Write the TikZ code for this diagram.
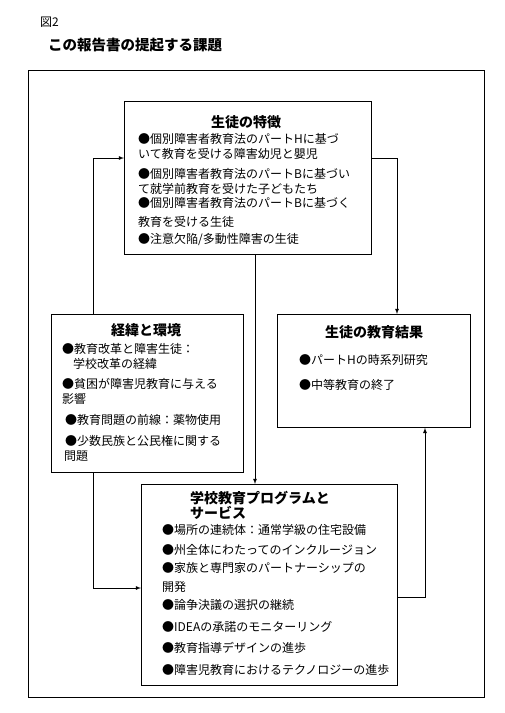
\documentclass[tikz,border=0pt]{standalone}
\usepackage{fontspec}
\setmainfont{Noto Sans CJK JP}
\usetikzlibrary{positioning}

\begin{document}
\begin{tikzpicture}[x=1pt,y=-1pt]
    \tikzstyle{box}=[rectangle, draw=black!100, thick, inner sep=0pt, anchor=north west]
    \tikzstyle{head}=[font=\fontsize{14}{15}\selectfont\bfseries, inner sep=0pt]
    \tikzstyle{item}=[font=\fontsize{12}{15}\selectfont, align=left, inner sep=0pt, anchor=north west]
    \tikzstyle{connect}=[-latex, thick]
    \useasboundingbox (0,0) rectangle (504,713);
      % caption
      \node[font=\fontsize{12}{14}\selectfont, inner sep=0pt, anchor=west] (fig) at (40,22) {図2};
      \node[font=\fontsize{14.5}{16}\selectfont\bfseries, inner sep=0pt, anchor=west] (caption) at (48,45) {この報告書の提起する課題};
      \node[box, minimum width=456pt, minimum height=627pt] (frame) at (28,70) {};
      % boxes
      \node[box, minimum width=247pt, minimum height=153pt] (traits) at (124,101) {};
      \node[box, minimum width=192pt, minimum height=158pt] (ctx) at (51,314) {};
      \node[box, minimum width=193pt, minimum height=113pt] (outcome) at (277,314) {};
      \node[box, minimum width=256pt, minimum height=201pt] (school) at (141,484) {};
      % texts
      \node[head] (traitsT) at (246,122) {生徒の特徴};
      \node[item] (traitsL) at (138,133) {●個別障害者教育法のパートHに基づ\\
        いて教育を受ける障害幼児と嬰児\\[5pt]
        ●個別障害者教育法のパートBに基づい\\
        て就学前教育を受けた子どもたち\\[-1pt]
        ●個別障害者教育法のパートBに基づく\\[4pt]
        教育を受ける生徒\\[2pt]
        ●注意欠陥/多動性障害の生徒};
      \node[head] (ctxT) at (146,330) {経緯と環境};
      \node[item] (ctxL) at (62,343) {●教育改革と障害生徒：\\
        \hspace{11pt}学校改革の経緯\\[5pt]
        ●貧困が障害児教育に与える\\
        影響\\[6pt]
        \hspace{3pt}●教育問題の前線：薬物使用\\[6pt]
        \hspace{3pt}●少数民族と公民権に関する\\
        \hspace{2pt}問題};
      \node[head] (outcomeT) at (374,332) {生徒の教育結果};
      \node[item] (outcomeL) at (299,354) {●パートHの時系列研究\\[10pt]
        ●中等教育の終了};
      \node[head, align=left, anchor=north west] (schoolT) at (190,491) {学校教育プログラムと\\
        サービス};
      \node[item] (schoolL) at (162,524) {●場所の連続体：通常学級の住宅設備\\[5pt]
        ●州全体にわたってのインクルージョン\\[3pt]
        ●家族と専門家のパートナーシップの\\[4pt]
        開発\\[3pt]
        ●論争決議の選択の継続\\[7pt]
        ●IDEAの承諾のモニターリング\\[6pt]
        ●教育指導デザインの進歩\\[7pt]
        ●障害児教育におけるテクノロジーの進歩};
      % connectors
      \coordinate (loopL) at (93,158);
      \coordinate (loopR) at (397,158);
      \coordinate (midX) at (255,0);
      \coordinate (loopB) at (93,588);
      \coordinate (loopE) at (425,597);
      \draw[connect] (ctx.north -| loopL) |- (traits.west |- loopL);
      \draw[connect] (traits.east |- loopR) -| (outcome.north -| loopR);
      \draw[connect] (traits.south -| midX) -- (school.north -| midX);
      \draw[connect] (ctx.south -| loopB) |- (school.west |- loopB);
      \draw[connect] (school.east |- loopE) -| (outcome.south -| loopE);
    \end{tikzpicture}
\end{document}
